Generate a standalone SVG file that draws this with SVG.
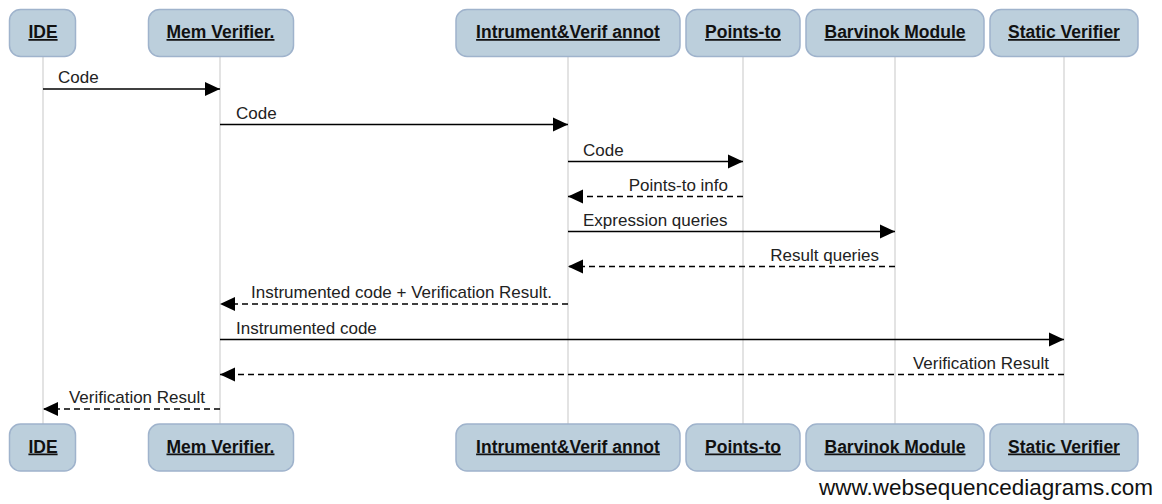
<svg xmlns="http://www.w3.org/2000/svg" width="1162" height="504" viewBox="0 0 1162 504">
<style>
.box{fill:#bccfdc;stroke:#9fb3cc;stroke-width:1.5}
.title{font-family:"Liberation Sans",Arial,sans-serif;font-size:17.5px;font-weight:bold;text-decoration:underline;text-anchor:middle;fill:#111}
.life{stroke:#d0d0d0;stroke-width:1.2}
.msg{stroke:#000;stroke-width:1.6;fill:none}
.dash{stroke-dasharray:6,4}
.lbl{font-family:"Liberation Sans",Arial,sans-serif;font-size:17px;fill:#222}
.end{text-anchor:end}
.wm{font-family:"Liberation Sans",Arial,sans-serif;font-size:22.5px;fill:#111;text-anchor:end}
</style>
<defs>
<marker id="ah" markerUnits="userSpaceOnUse" markerWidth="16" markerHeight="16" refX="15" refY="7.5" orient="auto" viewBox="0 0 16 16">
<path d="M0,0.5 L15,7.5 L0,14.5 Z" fill="#000"/>
</marker>
</defs>
<rect width="1162" height="504" fill="#fff"/>
<g id="lifelines">
<line class="life" x1="43" y1="56" x2="43" y2="424"/>
<line class="life" x1="220" y1="56" x2="220" y2="424"/>
<line class="life" x1="568" y1="56" x2="568" y2="424"/>
<line class="life" x1="743" y1="56" x2="743" y2="424"/>
<line class="life" x1="895" y1="56" x2="895" y2="424"/>
<line class="life" x1="1064" y1="56" x2="1064" y2="424"/>
</g>
<g id="node-ide">
<rect class="box" x="9.5" y="9.5" width="66" height="47" rx="11"/>
<text class="title" x="43" y="38">IDE</text>
<rect class="box" x="9.5" y="424" width="66" height="47" rx="11"/>
<text class="title" x="43" y="452.5">IDE</text>
</g>
<g id="node-mem">
<rect class="box" x="148.5" y="9.5" width="145" height="47" rx="11"/>
<text class="title" x="220.5" y="38">Mem Verifier.</text>
<rect class="box" x="148.5" y="424" width="145" height="47" rx="11"/>
<text class="title" x="220.5" y="452.5">Mem Verifier.</text>
</g>
<g id="node-instr">
<rect class="box" x="456" y="9.5" width="224" height="47" rx="11"/>
<text class="title" x="568" y="38">Intrument&amp;Verif annot</text>
<rect class="box" x="456" y="424" width="224" height="47" rx="11"/>
<text class="title" x="568" y="452.5">Intrument&amp;Verif annot</text>
</g>
<g id="node-points">
<rect class="box" x="686" y="9.5" width="114" height="47" rx="11"/>
<text class="title" x="743" y="38">Points-to</text>
<rect class="box" x="686" y="424" width="114" height="47" rx="11"/>
<text class="title" x="743" y="452.5">Points-to</text>
</g>
<g id="node-barvinok">
<rect class="box" x="806" y="9.5" width="178" height="47" rx="11"/>
<text class="title" x="895" y="38">Barvinok Module</text>
<rect class="box" x="806" y="424" width="178" height="47" rx="11"/>
<text class="title" x="895" y="452.5">Barvinok Module</text>
</g>
<g id="node-static">
<rect class="box" x="990" y="9.5" width="148" height="47" rx="11"/>
<text class="title" x="1064" y="38">Static Verifier</text>
<rect class="box" x="990" y="424" width="148" height="47" rx="11"/>
<text class="title" x="1064" y="452.5">Static Verifier</text>
</g>
<g id="connectors">
<line class="msg" x1="43" y1="89" x2="220" y2="89" marker-end="url(#ah)"/>
<text class="lbl" x="58" y="83">Code</text>
<line class="msg" x1="220" y1="124.5" x2="568" y2="124.5" marker-end="url(#ah)"/>
<text class="lbl" x="236" y="119">Code</text>
<line class="msg" x1="568" y1="161.5" x2="743" y2="161.5" marker-end="url(#ah)"/>
<text class="lbl" x="583" y="155.5">Code</text>
<line class="msg dash" x1="743" y1="196.5" x2="568" y2="196.5" marker-end="url(#ah)"/>
<text class="lbl end" x="728" y="190.5">Points-to info</text>
<line class="msg" x1="568" y1="231.5" x2="895" y2="231.5" marker-end="url(#ah)"/>
<text class="lbl" x="583" y="225.5">Expression queries</text>
<line class="msg dash" x1="895" y1="266.5" x2="568" y2="266.5" marker-end="url(#ah)"/>
<text class="lbl end" x="879" y="260.5">Result queries</text>
<line class="msg dash" x1="568" y1="304" x2="220" y2="304" marker-end="url(#ah)"/>
<text class="lbl end" x="552" y="297.5">Instrumented code + Verification Result.</text>
<line class="msg" x1="220" y1="339.5" x2="1064" y2="339.5" marker-end="url(#ah)"/>
<text class="lbl" x="236" y="333.5">Instrumented code</text>
<line class="msg dash" x1="1064" y1="374.5" x2="220" y2="374.5" marker-end="url(#ah)"/>
<text class="lbl end" x="1049" y="368.5">Verification Result</text>
<line class="msg dash" x1="220" y1="409" x2="43" y2="409" marker-end="url(#ah)"/>
<text class="lbl end" x="205" y="403">Verification Result</text>
</g>
<text class="wm" x="1153" y="495">www.websequencediagrams.com</text>
</svg>
